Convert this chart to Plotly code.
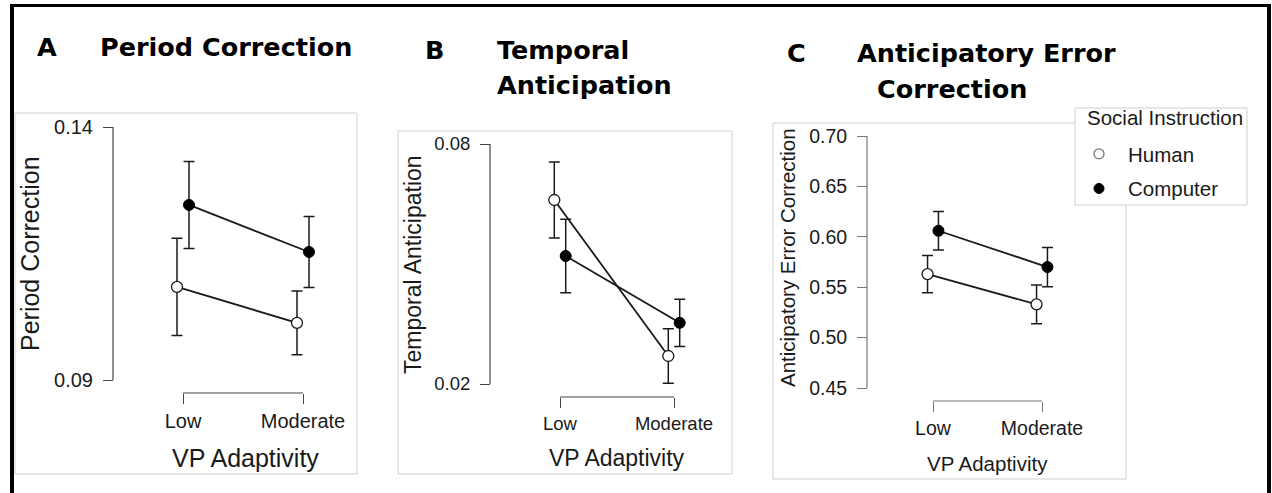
import plotly.graph_objects as go

W, H = 1272, 493

# ---------------- data ----------------
categories = ["Low", "Moderate"]
series_names = ["Human", "Computer"]
legend_title = "Social Instruction"

pc_human = [0.1084, 0.1013]
pc_human_err = [0.0096, 0.0063]
pc_computer = [0.1246, 0.1153]
pc_computer_err = [0.0086, 0.0070]
pc_ticks = [0.09, 0.14]

ta_human = [0.0660, 0.0270]
ta_human_err = [0.0095, 0.0068]
ta_computer = [0.0520, 0.0353]
ta_computer_err = [0.0092, 0.0059]
ta_ticks = [0.02, 0.08]

aec_human = [0.563, 0.533]
aec_human_err = [0.0185, 0.0193]
aec_computer = [0.606, 0.570]
aec_computer_err = [0.0190, 0.0195]
aec_ticks = [0.45, 0.50, 0.55, 0.60, 0.65, 0.70]

# ---------------- helpers ----------------
def px(x):
    return x / W

def py(y):
    return 1 - y / H

FONT = "Liberation Sans, Arial, sans-serif"
TFONT = "DejaVu Sans, sans-serif"
DARK = "#1a1a1a"

panels = [
    dict(key="", human=pc_human, herr=pc_human_err, comp=pc_computer, cerr=pc_computer_err,
         ticks=pc_ticks, fmt="{:.2f}", box=(15, 113, 357, 474), yline=113, ytop=127, ybot=380,
         low=183, mod=303, xline=393, tfs=20, afs=25, ytitle="Period Correction",
         ytx=30, yty=254, xty=458, xtx=245, axcol="#444"),
    dict(key="2", human=ta_human, herr=ta_human_err, comp=ta_computer, cerr=ta_computer_err,
         ticks=ta_ticks, fmt="{:.2f}", box=(398, 131, 732, 474), yline=490, ytop=144, ybot=384,
         low=560, mod=674, xline=397, tfs=18.5, afs=23, ytitle="Temporal Anticipation",
         ytx=413, yty=265, xty=458, xtx=617, axcol="#444"),
    dict(key="3", human=aec_human, herr=aec_human_err, comp=aec_computer, cerr=aec_computer_err,
         ticks=aec_ticks, fmt="{:.2f}", box=(773, 123, 1126, 479), yline=867, ytop=136, ybot=388,
         low=933, mod=1042, xline=401, tfs=19.5, afs=20.5, ytitle="Anticipatory Error Correction",
         ytx=787, yty=258, xty=463, xtx=987, axcol="#777"),
]

fig = go.Figure()
shapes = []
annotations = []
layout = {}
offset = 0.05

for p in panels:
    k = p["key"]
    xa = "xaxis" + k
    ya = "yaxis" + k
    xr = "x" + k
    yr = "y" + k
    step = p["mod"] - p["low"]
    x0px = p["low"] - 0.25 * step
    x1px = p["mod"] + 0.25 * step
    layout[xa] = dict(
        domain=[px(x0px), px(x1px)], range=[-0.25, 1.25], anchor="free",
        position=py(p["xline"]), showline=False, showgrid=False, zeroline=False,
        tickvals=[0, 1], ticktext=categories, ticks="outside", ticklen=10,
        tickwidth=1.2, tickcolor=p["axcol"], automargin=False,
        tickfont=dict(family=FONT, size=p["tfs"], color=DARK), fixedrange=True,
    )
    layout[ya] = dict(
        domain=[py(p["ybot"]), py(p["ytop"])], range=[p["ticks"][0], p["ticks"][-1]],
        anchor="free", position=px(p["yline"]), showline=False, showgrid=False,
        zeroline=False, tickvals=p["ticks"], ticktext=[p["fmt"].format(t) for t in p["ticks"]],
        ticks="outside", ticklen=10, tickwidth=1.2, tickcolor=p["axcol"],
        ticklabelstandoff=6, automargin=False,
        tickfont=dict(family=FONT, size=p["tfs"], color=DARK), fixedrange=True,
    )
    bx0, by0, bx1, by1 = p["box"]
    shapes.append(dict(type="rect", xref="paper", yref="paper", x0=px(bx0), x1=px(bx1),
                       y0=py(by1), y1=py(by0), line=dict(color="#cfcfcf", width=1), layer="below"))
    shapes.append(dict(type="line", xref="paper", yref=yr, x0=px(p["yline"]), x1=px(p["yline"]),
                       y0=p["ticks"][0], y1=p["ticks"][-1], line=dict(color=p["axcol"], width=1.2)))
    shapes.append(dict(type="line", xref=xr, yref="paper", x0=0, x1=len(categories) - 1,
                       y0=py(p["xline"]), y1=py(p["xline"]), line=dict(color=p["axcol"], width=1.2)))
    annotations.append(dict(text=p["ytitle"], xref="paper", yref="paper", x=px(p["ytx"]),
                            y=py(p["yty"]), textangle=-90, showarrow=False, xanchor="center",
                            yanchor="middle", font=dict(family=FONT, size=p["afs"], color=DARK)))
    annotations.append(dict(text="VP Adaptivity", xref="paper", yref="paper", x=px(p["xtx"]),
                            y=py(p["xty"]), showarrow=False, xanchor="center",
                            yanchor="middle", font=dict(family=FONT, size=p["afs"], color=DARK)))

    xs = list(range(len(categories)))
    fig.add_trace(go.Scatter(
        x=[v - offset for v in xs], y=p["human"], xaxis=xr, yaxis=yr, mode="lines+markers",
        line=dict(color=DARK, width=1.8),
        marker=dict(size=11, color="white", line=dict(color=DARK, width=1.3)),
        error_y=dict(type="data", array=p["herr"], color=DARK, thickness=1.5, width=5.5),
        showlegend=False, cliponaxis=False, hoverinfo="skip"))
    fig.add_trace(go.Scatter(
        x=[v + offset for v in xs], y=p["comp"], xaxis=xr, yaxis=yr, mode="lines+markers",
        line=dict(color=DARK, width=1.8),
        marker=dict(size=11, color="black", line=dict(color="black", width=1)),
        error_y=dict(type="data", array=p["cerr"], color=DARK, thickness=1.5, width=5.5),
        showlegend=False, cliponaxis=False, hoverinfo="skip"))

# legend entries
fig.add_trace(go.Scatter(x=[None], y=[None], xaxis="x3", yaxis="y3", mode="markers",
                         name=series_names[0], legendgroup="h",
                         marker=dict(size=10, color="white", line=dict(color="#777", width=1.3))))
fig.add_trace(go.Scatter(x=[None], y=[None], xaxis="x3", yaxis="y3", mode="markers",
                         name=series_names[1], legendgroup="c",
                         marker=dict(size=10, color="black", line=dict(color="black", width=1))))

# legend box + title
shapes.append(dict(type="rect", xref="paper", yref="paper", x0=px(1075), x1=px(1247),
                   y0=py(205), y1=py(108), fillcolor="white",
                   line=dict(color="#cfcfcf", width=1), layer="above"))
annotations.append(dict(text=legend_title, xref="paper", yref="paper", x=px(1085), y=py(118),
                        xanchor="left", yanchor="middle", showarrow=False,
                        font=dict(family=FONT, size=20.5, color=DARK)))

# outer frame
shapes.append(dict(type="line", xref="paper", yref="paper", x0=px(10), x1=px(1271),
                   y0=py(5.5), y1=py(5.5), line=dict(color="black", width=3)))
shapes.append(dict(type="line", xref="paper", yref="paper", x0=px(12), x1=px(12),
                   y0=py(4), y1=py(H + 5), line=dict(color="black", width=4)))
shapes.append(dict(type="line", xref="paper", yref="paper", x0=px(1269), x1=px(1269),
                   y0=py(4), y1=py(H + 5), line=dict(color="black", width=4)))

# panel titles
titles = [
    ("A", 35, 47), ("Period Correction", 98, 47),
    ("B", 423, 50), ("Temporal", 495, 50), ("Anticipation", 495, 85),
    ("C", 785, 53), ("Anticipatory Error", 855, 53), ("Correction", 875, 89),
]
for t, x, y in titles:
    annotations.append(dict(text="<b>" + t + "</b>", xref="paper", yref="paper", x=px(x), y=py(y),
                            xanchor="left", yanchor="middle", showarrow=False,
                            font=dict(family=TFONT, size=25.5, color="black")))

fig.update_layout(
    width=W, height=H, margin=dict(l=0, r=0, t=0, b=0, pad=0, autoexpand=False),
    paper_bgcolor="white", plot_bgcolor="rgba(0,0,0,0)",
    shapes=shapes, annotations=annotations, showlegend=True,
    legend=dict(
        x=px(1070), y=py(134), xanchor="left", yanchor="top",
        bgcolor="rgba(0,0,0,0)", borderwidth=0,
        font=dict(family=FONT, size=20.5, color=DARK), itemwidth=48,
        traceorder="grouped", tracegroupgap=5,
    ),
    **layout,
)

fig.write_html("out.html")
